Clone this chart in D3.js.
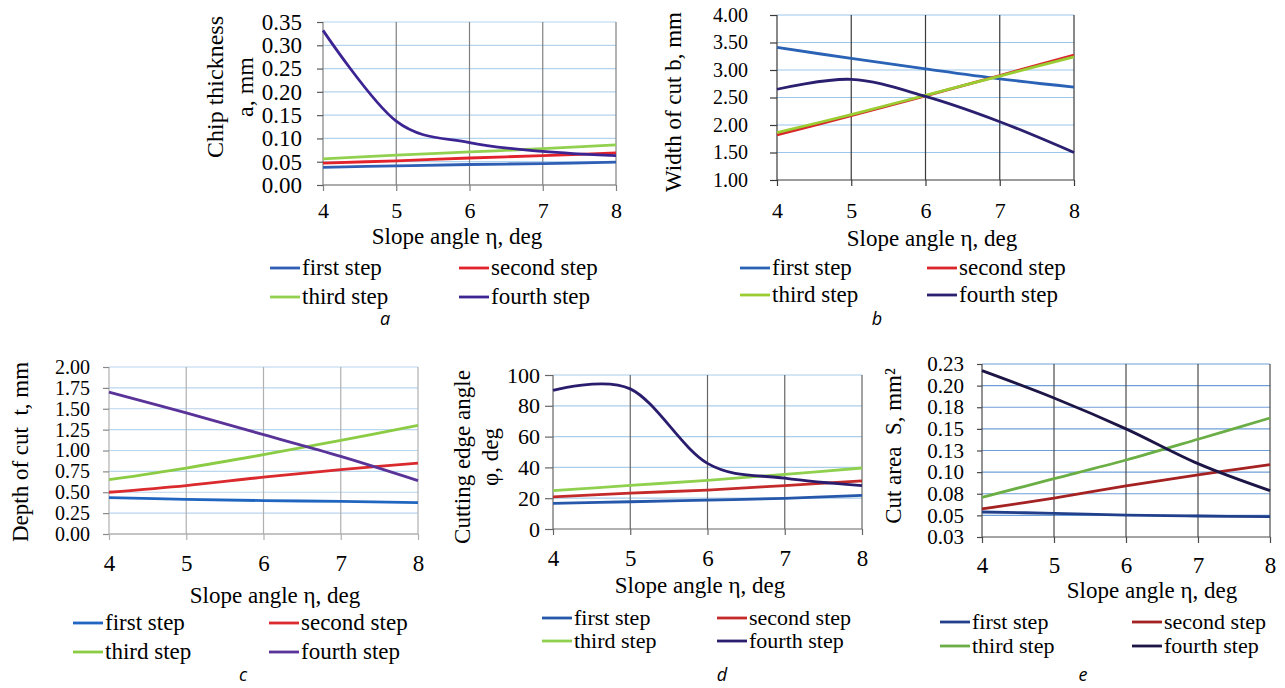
<!DOCTYPE html>
<html>
<head>
<meta charset="utf-8">
<script src="https://cdn.jsdelivr.net/npm/d3@7"></script>
<style>
    body {margin: 0; background: #fff;}
    svg text {font-family: "Liberation Serif", "Times New Roman", serif; fill: #000;}
</style>
</head>
<body>
<div id="chart"></div>
<script>
let slope_angles = [4, 5, 6, 7, 8];
let step_names = ["first step", "second step", "third step", "fourth step"];

// a - chip thickness, mm
let chip_first = [0.038, 0.041, 0.044, 0.046, 0.049];
let chip_second = [0.047, 0.052, 0.058, 0.063, 0.069];
let chip_third = [0.056, 0.064, 0.071, 0.078, 0.086];
let chip_fourth = [0.332, 0.137, 0.091, 0.072, 0.063];
let chip_ticks = [0, 0.05, 0.10, 0.15, 0.20, 0.25, 0.30, 0.35];
let chip_labels = ["0.00", "0.05", "0.10", "0.15", "0.20", "0.25", "0.30", "0.35"];

// b - width of cut, mm
let width_first = [3.41, 3.21, 3.02, 2.84, 2.69];
let width_second = [1.82, 2.17, 2.53, 2.90, 3.27];
let width_third = [1.86, 2.19, 2.54, 2.89, 3.24];
let width_fourth = [2.65, 2.83, 2.52, 2.06, 1.50];
let width_ticks = [1, 1.5, 2, 2.5, 3, 3.5, 4];
let width_labels = ["1.00", "1.50", "2.00", "2.50", "3.00", "3.50", "4.00"];

// c - depth of cut, mm
let depth_first = [0.435, 0.415, 0.40, 0.39, 0.375];
let depth_second = [0.50, 0.58, 0.68, 0.77, 0.85];
let depth_third = [0.65, 0.79, 0.95, 1.12, 1.30];
let depth_fourth = [1.70, 1.45, 1.19, 0.93, 0.64];
let depth_ticks = [0, 0.25, 0.5, 0.75, 1, 1.25, 1.5, 1.75, 2];
let depth_labels = ["0.00", "0.25", "0.50", "0.75", "1.00", "1.25", "1.50", "1.75", "2.00"];

// d - cutting edge angle, deg
let angle_first = [16.7, 17.7, 18.8, 19.9, 21.9];
let angle_second = [20.8, 23.3, 25.3, 28.2, 31.2];
let angle_third = [24.9, 28.3, 31.6, 35.5, 39.6];
let angle_fourth = [90, 91, 42.6, 33, 28.2];
let angle_ticks = [0, 20, 40, 60, 80, 100];
let angle_labels = ["0", "20", "40", "60", "80", "100"];

// e - cut area, mm2
let area_first = [0.0539, 0.0524, 0.0504, 0.0493, 0.0485];
let area_second = [0.0574, 0.070, 0.084, 0.0967, 0.1086];
let area_third = [0.0709, 0.0924, 0.114, 0.138, 0.1626];
let area_fourth = [0.2173, 0.1857, 0.150, 0.1098, 0.0786];
let area_ticks = [0.025, 0.05, 0.075, 0.1, 0.125, 0.15, 0.175, 0.2, 0.225];
let area_labels = ["0.03", "0.05", "0.08", "0.10", "0.13", "0.15", "0.18", "0.20", "0.23"];

let svg = d3.select("#chart").append("svg")
    .attr("width", 1285)
    .attr("height", 688);

let serif = "'Liberation Serif', 'Times New Roman', serif";

let panels = [
    {
        series: [chip_first, chip_second, chip_third, chip_fourth],
        colors: ["#2f5fb5", "#e3232c", "#92d050", "#3c2592"],
        left: 323, right: 616, top: 22, bottom: 185,
        y_domain: [0, 0.35], y_ticks: chip_ticks, y_labels: chip_labels,
        y_font: 23, y_tick_len: 6, y_pad: 15,
        x_font: 22, x_tick_center: 210,
        hgrid: "#b4d3ee", vgrid: "#808080", base: "#5a5a5a",
        y_title: ["Chip thickness", "a, mm"], y_title_x: [215, 245], y_title_y: 87, y_title_font: 24,
        x_title_x: 457, x_title_y: 236, x_title_font: 23,
        legend_x: [270, 459], legend_y: [268, 297], legend_font: 23,
        caption: "a", caption_x: 385, caption_y: 319
    },
    {
        series: [width_first, width_second, width_third, width_fourth],
        colors: ["#2a62b5", "#d8262a", "#9acd32", "#2b2070"],
        left: 777, right: 1074, top: 15, bottom: 180,
        y_domain: [1, 4], y_ticks: width_ticks, y_labels: width_labels,
        y_font: 20, y_tick_len: 7, y_pad: 22,
        x_font: 22, x_tick_center: 210,
        hgrid: "#9cc5ea", vgrid: "#3a3a3a", base: "#3a3a3a",
        y_title: ["Width of cut b, mm"], y_title_x: [673], y_title_y: 102, y_title_font: 23,
        x_title_x: 932, x_title_y: 238, x_title_font: 23,
        legend_x: [740, 927], legend_y: [268, 295], legend_font: 23,
        caption: "b", caption_x: 877, caption_y: 319
    },
    {
        series: [depth_first, depth_second, depth_third, depth_fourth],
        colors: ["#2066c0", "#da2a2e", "#8ccc44", "#5a3399"],
        left: 109, right: 418, top: 367, bottom: 534,
        y_domain: [0, 2], y_ticks: depth_ticks, y_labels: depth_labels,
        y_font: 20, y_tick_len: 6, y_pad: 13,
        x_font: 23, x_tick_center: 563,
        hgrid: "#b8d6ee", vgrid: "#b0b0b0", base: "#8a8a8a",
        y_title: ["Depth of cut\u00a0\u00a0t, mm"], y_title_x: [20], y_title_y: 452, y_title_font: 23,
        x_title_x: 275, x_title_y: 595, x_title_font: 23,
        legend_x: [73, 269], legend_y: [623, 652], legend_font: 23,
        caption: "c", caption_x: 243, caption_y: 675
    },
    {
        series: [angle_first, angle_second, angle_third, angle_fourth],
        colors: ["#2557aa", "#c42a2a", "#8fd14f", "#2b1d6e"],
        left: 553, right: 862, top: 375, bottom: 529,
        y_domain: [0, 100], y_ticks: angle_ticks, y_labels: angle_labels,
        y_font: 22, y_tick_len: 8, y_pad: 5,
        x_font: 23, x_tick_center: 558,
        hgrid: "#aacdea", vgrid: "#666666", base: "#666666",
        y_title: ["Cutting edge angle", "φ, deg"], y_title_x: [462, 490], y_title_y: 457, y_title_font: 23,
        x_title_x: 700, x_title_y: 585, x_title_font: 23,
        legend_x: [542, 717], legend_y: [618, 641], legend_font: 22,
        caption: "d", caption_x: 722, caption_y: 675
    },
    {
        series: [area_first, area_second, area_third, area_fourth],
        colors: ["#213f8a", "#a52222", "#6aae45", "#1c1545"],
        left: 982, right: 1270, top: 364, bottom: 537,
        y_domain: [0.025, 0.225], y_ticks: area_ticks, y_labels: area_labels,
        y_font: 21, y_tick_len: 5, y_pad: 13,
        x_font: 23, x_tick_center: 565,
        hgrid: "#6f9fd8", vgrid: "#4a4a4a", base: "#4a4a4a",
        y_title: ["Cut area\u00a0\u00a0S, mm²"], y_title_x: [893], y_title_y: 446, y_title_font: 23,
        x_title_x: 1152, x_title_y: 590, x_title_font: 23,
        legend_x: [940, 1132], legend_y: [622, 646], legend_font: 22,
        caption: "e", caption_x: 1083, caption_y: 675
    }
];

panels.forEach((p) => draw_panel(p));

function draw_panel(p) {
    let g = svg.append("g");

    let xScale = d3.scaleLinear().domain([4, 8]).range([p.left, p.right]);
    let yScale = d3.scaleLinear().domain(p.y_domain).range([p.bottom, p.top]);

    // horizontal grid
    g.append("g").selectAll("line")
        .data(p.y_ticks)
        .join("line")
        .attr("x1", p.left).attr("x2", p.right)
        .attr("y1", (d) => yScale(d)).attr("y2", (d) => yScale(d))
        .attr("stroke", (d, i) => i === 0 ? p.base : p.hgrid)
        .attr("stroke-width", 1.2);

    // vertical grid
    g.append("g").selectAll("line")
        .data(slope_angles)
        .join("line")
        .attr("x1", (d) => xScale(d)).attr("x2", (d) => xScale(d))
        .attr("y1", p.top).attr("y2", p.bottom)
        .attr("stroke", p.vgrid)
        .attr("stroke-width", 1.2);

    let yAxis = d3.axisLeft(yScale)
        .tickValues(p.y_ticks)
        .tickSize(p.y_tick_len)
        .tickPadding(p.y_pad)
        .tickFormat((d, i) => p.y_labels[i]);
    let gy = g.append("g")
        .attr("transform", "translate(" + p.left + ",0)")
        .call(yAxis);
    gy.select(".domain").remove();
    gy.selectAll(".tick line").attr("stroke", p.base).attr("stroke-width", 1.2);
    gy.selectAll(".tick text")
        .attr("font-size", p.y_font)
        .style("font-family", serif)
        .attr("fill", "#000");

    let x_pad = p.x_tick_center - p.bottom - 6 - 0.35 * p.x_font;
    let xAxis = d3.axisBottom(xScale)
        .tickValues(slope_angles)
        .tickSize(6)
        .tickPadding(x_pad)
        .tickFormat(d3.format("d"));
    let gx = g.append("g")
        .attr("transform", "translate(0," + p.bottom + ")")
        .call(xAxis);
    gx.select(".domain").remove();
    gx.selectAll(".tick line").attr("stroke", p.vgrid).attr("stroke-width", 1.2);
    gx.selectAll(".tick text")
        .attr("font-size", p.x_font)
        .style("font-family", serif)
        .attr("fill", "#000");

    // series lines
    let line = d3.line()
        .x((d, i) => xScale(slope_angles[i]))
        .y((d) => yScale(d))
        .curve(d3.curveCardinal.tension(0));

    p.series.forEach((values, i) => {
        g.append("path")
            .attr("d", line(values))
            .attr("fill", "none")
            .attr("stroke", p.colors[i])
            .attr("stroke-width", 2.8)
            .attr("stroke-linejoin", "round");
    });

    // titles
    p.y_title.forEach((txt, i) => {
        g.append("text")
            .attr("transform", "translate(" + p.y_title_x[i] + "," + p.y_title_y + ") rotate(-90)")
            .attr("text-anchor", "middle")
            .attr("dy", "0.35em")
            .attr("font-size", p.y_title_font)
            .text(txt);
    });

    g.append("text")
        .attr("x", p.x_title_x)
        .attr("y", p.x_title_y)
        .attr("dy", "0.35em")
        .attr("text-anchor", "middle")
        .attr("font-size", p.x_title_font)
        .text("Slope angle η, deg");

    // legend
    step_names.forEach((name, i) => {
        let lx = p.legend_x[i % 2];
        let ly = p.legend_y[Math.floor(i / 2)];
        g.append("line")
            .attr("x1", lx).attr("x2", lx + 30)
            .attr("y1", ly).attr("y2", ly)
            .attr("stroke", p.colors[i])
            .attr("stroke-width", 2.8);
        g.append("text")
            .attr("x", lx + 32)
            .attr("y", ly)
            .attr("dy", "0.3em")
            .attr("font-size", p.legend_font)
            .text(name);
    });

    g.append("text")
        .attr("x", p.caption_x)
        .attr("y", p.caption_y)
        .attr("dy", "0.35em")
        .attr("text-anchor", "middle")
        .attr("font-size", 18)
        .style("font-family", "'Open Sans', sans-serif")
        .style("font-style", "italic")
        .text(p.caption);
}
</script>
</body>
</html>
